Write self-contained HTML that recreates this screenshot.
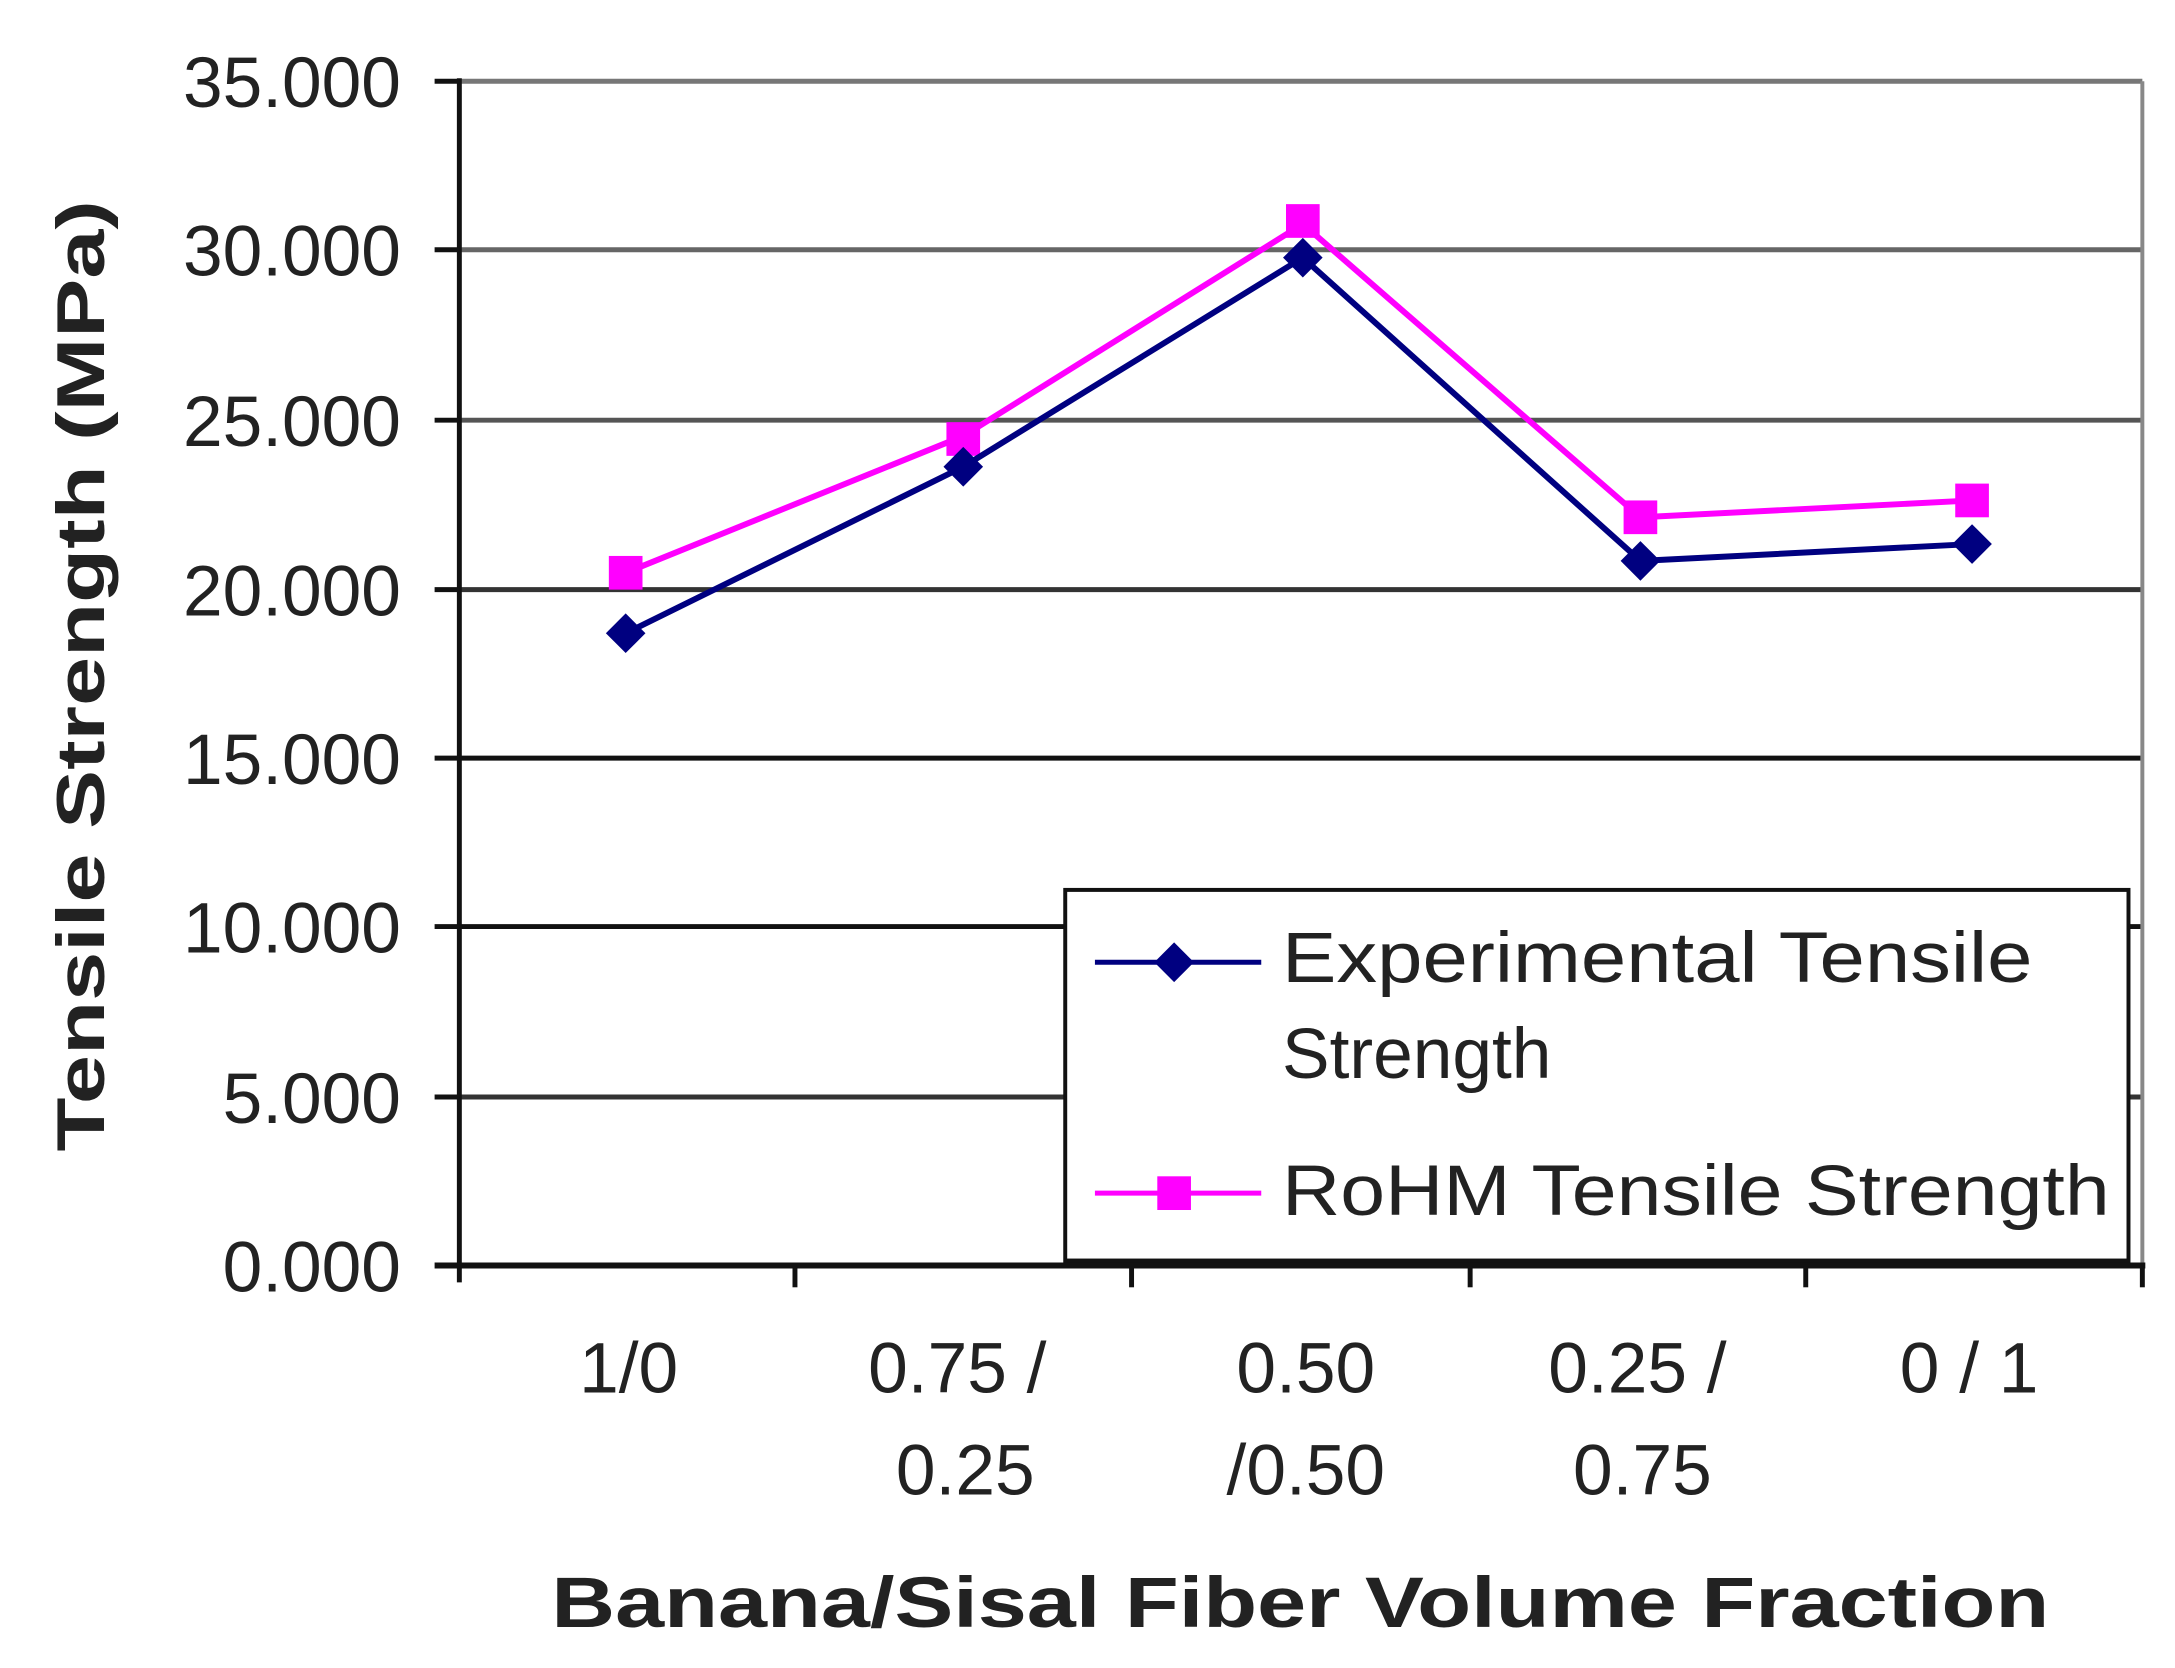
<!DOCTYPE html>
<html><head><meta charset="utf-8"><style>
html,body{margin:0;padding:0;background:#fff;}
svg{display:block;}
text{font-family:"Liberation Sans",Arial,sans-serif;fill:#222;}
</style></head><body>
<svg width="2175" height="1668" viewBox="0 0 2175 1668" xmlns="http://www.w3.org/2000/svg">
<rect width="2175" height="1668" fill="#fff"/>
<g transform="translate(-1,-1) scale(0.990,0.991)">
<!-- gridlines -->
<g stroke-width="5">
<line x1="465" y1="83" x2="2165" y2="83" stroke="#777"/>
<line x1="465" y1="253" x2="2165" y2="253" stroke="#666"/>
<line x1="465" y1="425" x2="2165" y2="425" stroke="#555"/>
<line x1="465" y1="596" x2="2165" y2="596" stroke="#333"/>
<line x1="465" y1="766" x2="2165" y2="766" stroke="#111"/>
<line x1="465" y1="936" x2="2165" y2="936" stroke="#111"/>
<line x1="465" y1="1108" x2="2165" y2="1108" stroke="#333"/>
</g>
<line x1="2165" y1="83" x2="2165" y2="1278" stroke="#888" stroke-width="4"/>
<!-- axes -->
<line x1="465" y1="80" x2="465" y2="1295" stroke="#111" stroke-width="5"/>
<line x1="440" y1="1278" x2="2168" y2="1278" stroke="#111" stroke-width="6"/>
<g stroke="#111" stroke-width="5">
<line x1="440" y1="83" x2="465" y2="83"/><line x1="440" y1="253" x2="465" y2="253"/><line x1="440" y1="425" x2="465" y2="425"/><line x1="440" y1="596" x2="465" y2="596"/><line x1="440" y1="766" x2="465" y2="766"/><line x1="440" y1="936" x2="465" y2="936"/><line x1="440" y1="1108" x2="465" y2="1108"/>
<line x1="804" y1="1278" x2="804" y2="1300"/><line x1="1144" y1="1278" x2="1144" y2="1300"/><line x1="1486" y1="1278" x2="1486" y2="1300"/><line x1="1825" y1="1278" x2="1825" y2="1300"/><line x1="2165" y1="1278" x2="2165" y2="1300"/>
</g>
<!-- y labels -->
<g font-size="72" text-anchor="end">
<text x="406" y="109">35.000</text>
<text x="406" y="279">30.000</text>
<text x="406" y="451">25.000</text>
<text x="406" y="622">20.000</text>
<text x="406" y="792">15.000</text>
<text x="406" y="962">10.000</text>
<text x="406" y="1134">5.000</text>
<text x="406" y="1304">0.000</text>
</g>
<text transform="translate(106,683) rotate(-90)" font-size="68" font-weight="bold" text-anchor="middle" textLength="960" lengthAdjust="spacingAndGlyphs">Tensile Strength (MPa)</text>
<!-- x labels -->
<g font-size="72" text-anchor="middle">
<text x="636" y="1406">1/0</text>
<text x="968" y="1406">0.75 /</text><text x="976" y="1509">0.25</text>
<text x="1320" y="1406">0.50</text><text x="1320" y="1509">/0.50</text>
<text x="1655" y="1406">0.25 /</text><text x="1660" y="1509">0.75</text>
<text x="1990" y="1406">0 / 1</text>
</g>
<text x="558" y="1643" font-size="72" font-weight="bold" textLength="1513" lengthAdjust="spacingAndGlyphs">Banana/Sisal Fiber Volume Fraction</text>
<!-- series -->
<polyline points="633,579 974,441 1317,227 1658,523 1993,506" fill="none" stroke="#ff00ff" stroke-width="6"/>
<g fill="#ff00ff">
<rect x="616" y="562" width="34" height="34"/><rect x="957" y="427" width="34" height="34"/><rect x="1300" y="207" width="34" height="34"/><rect x="1641" y="506" width="34" height="34"/><rect x="1976" y="489" width="34" height="34"/>
</g>
<polyline points="633,640 974,472 1317,261 1658,567 1993,550" fill="none" stroke="#000080" stroke-width="6"/>
<g fill="#000080">
<polygon points="633,620 653,640 633,660 613,640"/><polygon points="974,452 994,472 974,492 954,472"/><polygon points="1317,241 1337,261 1317,281 1297,261"/><polygon points="1658,547 1678,567 1658,587 1638,567"/><polygon points="1993,530 2013,550 1993,570 1973,550"/>
</g>
<!-- legend -->
<rect x="1077" y="899" width="1074" height="374" fill="#fff" stroke="#111" stroke-width="4"/>
<line x1="1107" y1="972" x2="1275" y2="972" stroke="#000080" stroke-width="5"/>
<polygon points="1187,952 1207,972 1187,992 1167,972" fill="#000080"/>
<line x1="1107" y1="1205" x2="1275" y2="1205" stroke="#ff00ff" stroke-width="5"/>
<rect x="1170" y="1188" width="34" height="34" fill="#ff00ff"/>
<g font-size="72">
<text x="1296" y="992" textLength="758" lengthAdjust="spacingAndGlyphs">Experimental Tensile</text>
<text x="1296" y="1089">Strength</text>
<text x="1296" y="1227" textLength="836" lengthAdjust="spacingAndGlyphs">RoHM Tensile Strength</text>
</g>
</g>
</svg>
</body></html>
